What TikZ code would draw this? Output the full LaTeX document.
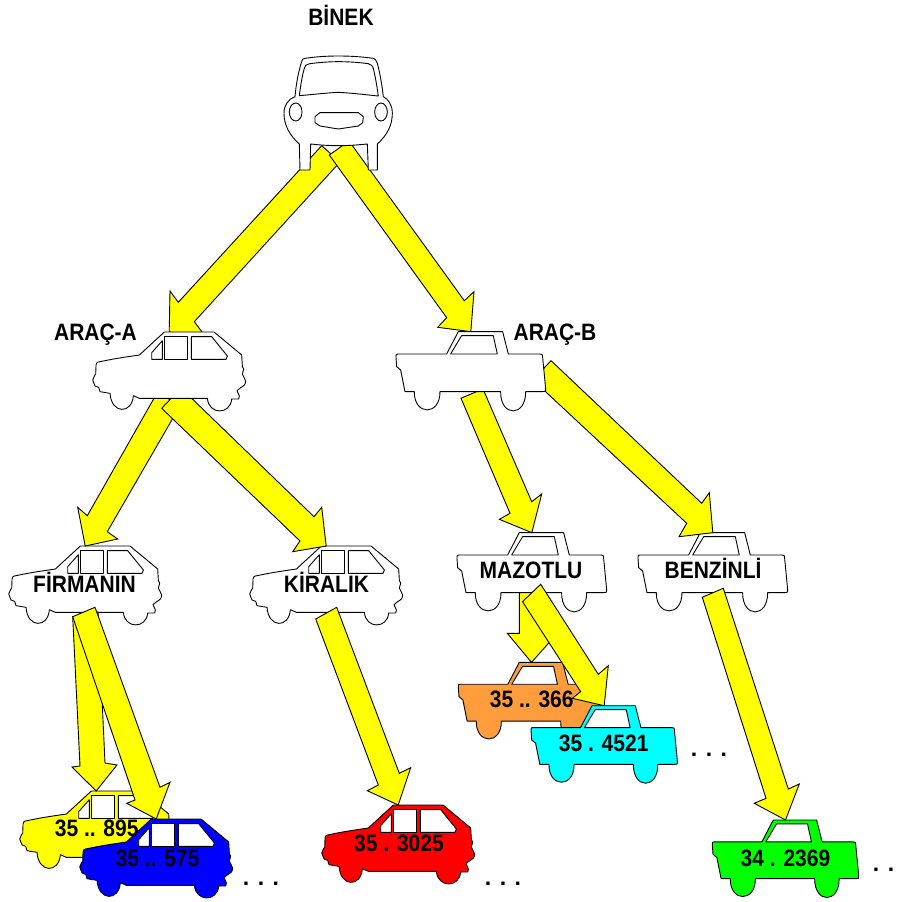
\documentclass[tikz,border=0pt]{standalone}
\usepackage{graphicx}
\usepackage{fontspec}
\setmainfont{Liberation Sans}
\usetikzlibrary{calc}
\definecolor{carorange}{RGB}{255,156,60}
\definecolor{pureyellow}{RGB}{255,255,0}
\definecolor{purecyan}{RGB}{0,255,255}
\definecolor{pureblue}{RGB}{0,0,255}
\definecolor{purered}{RGB}{255,0,0}
\definecolor{puregreen}{RGB}{0,255,0}
\tikzset{
  carline/.style={draw=black,line width=0.9pt,line join=round},
  anchorbox/.style={inner sep=0pt,outer sep=0pt,rectangle,minimum width=#1},
  blockar/.style={draw=black,fill=pureyellow,line width=0.9pt,line join=miter},
  labeltext/.style={anchor=base,inner sep=0pt,font=\fontsize{21}{21}\selectfont\bfseries,text=black},
  dotstext/.style={anchor=base,inner sep=0pt,font=\fontsize{23}{23}\selectfont\bfseries,text=black}
}
% hatchback side view, drawn around its named anchor node
\newcommand{\hatchcar}[2]{%
\begin{scope}[shift={(#1.center)},x=0.33333pt,y=-0.33333pt,shift={(-357.5,-214.5)}]
\draw[carline,fill=#2] (268,165) -- (343,96) -- (492,96) -- (575,165) -- (577,200) -- (581,207) -- (577,222)
 .. controls (582,230) .. (587,243) .. controls (585,255) .. (572,263) -- (561,272) -- (568,288) -- (566,297) -- (545,297)
 .. controls (541,345) and (476,345) .. (472,295) -- (268,295) -- (250,287)
 .. controls (246,343) and (184,343) .. (180,280) -- (150,275) -- (146,262) -- (135,258) -- (128,240) -- (133,228) -- (137,222) -- (138,195)
 .. controls (140,187) .. (150,185) .. controls (200,175) .. cycle;
\draw[carline,fill=white] (305,178) -- (305,158) -- (337,122) -- (337,178) -- cycle;
\draw[carline,fill=white] (343,110) -- (412,110) -- (412,178) -- (343,178) -- cycle;
\draw[carline,fill=white] (424,110) -- (485,110) -- (532,168) -- (528,178) -- (424,178) -- cycle;
\end{scope}}
% pickup-like sedan side view
\newcommand{\sedancar}[3]{%
\begin{scope}[shift={(#1.center)},x={#3*0.33333pt},y={-#3*0.33333pt},shift={(-272.5,-184)}]
\draw[carline,fill=#2] (200,132) -- (235,65) -- (368,65) -- (385,132) -- (478,132)
 .. controls (487,132) .. (488,142) -- (497,235) .. controls (497,245) .. (488,245) -- (437,245)
 .. controls (438,322) and (361,322) .. (362,245) -- (180,245)
 .. controls (181,318) and (102,318) .. (103,245) -- (75,245) -- (62,180) -- (50,170) -- (48,140)
 .. controls (48,132) .. (55,132) -- cycle;
\draw[carline,fill=white] (212,132) -- (245,77) -- (340,77) -- (352,132) -- cycle;
\end{scope}}
% block arrow: source, two tail corners (offsets from source's south), notch, barb, target, barb, notch
\newcommand{\blockarrow}[8]{%
\draw[blockar] ($(#1.south)+(#2)$) -- (#4) -- (#5) -- (#6.north) -- (#7) -- (#8) -- ($(#1.south)+(#3)$) -- cycle;}
\begin{document}
\begin{tikzpicture}[x=1pt,y=-1pt]
\useasboundingbox (0,0) rectangle (898,902);
\fill[white] (0,0) rectangle (898,902);
% anchor nodes of all cars
\node[anchorbox=108.3pt,minimum height=114pt] (bin) at (338.2,113) {};
\node[anchorbox=153pt,minimum height=79pt] (caa) at (169.2,371.5) {};
\node[anchorbox=153pt,minimum height=79pt] (fir) at (85.2,585.5) {};
\node[anchorbox=153pt,minimum height=79pt] (kir) at (326.2,585.5) {};
\node[anchorbox=153pt,minimum height=79pt] (yel) at (96.2,830.5) {};
\node[anchorbox=153pt,minimum height=79pt] (blu) at (156.2,858.5) {};
\node[anchorbox=153pt,minimum height=79pt] (red) at (398.2,844.5) {};
\node[anchorbox=149.7pt,minimum height=79.3pt] (cab) at (470.8,371.3) {};
\node[anchorbox=149.7pt,minimum height=79.3pt] (maz) at (531.8,572.3) {};
\node[anchorbox=149.7pt,minimum height=79.3pt] (ben) at (712.8,572.3) {};
\node[anchorbox=146.4pt,minimum height=77.6pt] (ora) at (531.5,701.2) {};
\node[anchorbox=146.4pt,minimum height=77.6pt] (cya) at (604.2,744.5) {};
\node[anchorbox=146.4pt,minimum height=77.6pt] (gre) at (785.5,858.8) {};
% lower cars, under the arrows
\hatchcar{fir}{white}
\hatchcar{kir}{white}
\sedancar{maz}{white}{1}
\sedancar{ben}{white}{1}
\hatchcar{yel}{pureyellow}
\hatchcar{red}{purered}
\sedancar{ora}{carorange}{0.978}
\sedancar{gre}{puregreen}{0.978}
% upper arrows
\blockarrow{bin}{-16.5,-24.3}{1.8,-8}{178.3,302.3}{170,291}{caa}{205,336}{194.3,321.7}
\blockarrow{bin}{-8.9,-15}{10.8,-29}{446.7,317.7}{437.7,327.3}{cab}{474,291.7}{464.3,300.7}
\blockarrow{caa}{-12.2,-18}{11.3,-6}{87.3,515.7}{77.7,507.3}{fir}{117.7,539}{107.3,531.7}
\blockarrow{caa}{-7.5,-2.7}{11.8,-23}{300,541}{292.7,551.7}{kir}{321.7,507.3}{314,516.7}
\blockarrow{cab}{-9.8,-12.7}{12.2,-22}{510,513.3}{499.3,519.3}{maz}{541.7,494}{531.7,501.7}
\blockarrow{cab}{62.2,-31}{80.2,-50.3}{686.7,523.3}{679,536.7}{ben}{709.3,492.7}{701.7,503.3}
% upper cars, over the arrow tails
\hatchcar{caa}{white}
\sedancar{cab}{white}{1}
% front view car
\begin{scope}[shift={(bin.center)},x=0.33333pt,y=-0.33333pt,shift={(-204.6,-339)}]
\draw[carline,fill=white] (90,510) -- (88,432) .. controls (58,405) and (42,375) .. (42,340)
 .. controls (42,315) and (55,297) .. (75,290) .. controls (78,255) and (85,215) .. (95,185)
 .. controls (97,177) .. (105,175) .. controls (140,170) and (170,168) .. (205,168)
 .. controls (240,168) and (275,170) .. (310,175) .. controls (316,177) .. (322,190)
 .. controls (330,220) and (336,255) .. (340,290) .. controls (355,297) and (367,315) .. (367,340)
 .. controls (367,375) and (352,405) .. (322,432) -- (322,510) -- (295,510) -- (292,432)
 .. controls (260,435) and (235,437) .. (205,437) .. controls (175,437) and (150,435) .. (122,432)
 -- (120,510) -- cycle;
\draw[carline] (88,287) .. controls (92,255) and (97,225) .. (103,205) .. controls (106,195) .. (120,191)
 .. controls (150,187) and (180,185) .. (205,185) .. controls (235,185) and (265,187) .. (295,191)
 .. controls (305,195) .. (310,205) .. controls (316,230) and (321,260) .. (325,288)
 .. controls (285,284) and (245,279) .. (205,277) .. controls (165,279) and (125,284) .. cycle;
\draw[carline] (77,336) ellipse [x radius=19,y radius=27];
\draw[carline] (333,336) ellipse [x radius=19,y radius=27];
\draw[carline] (135,350) -- (150,338) -- (265,338) -- (280,350) -- (278,368) -- (265,378) -- (205,387) -- (150,378) -- (135,368) -- cycle;
\end{scope}
% lower arrows
\blockarrow{fir}{-12.5,-8.3}{12.8,-13}{80,766}{72,767}{yel}{117,765}{105,763}
\blockarrow{fir}{-12.5,-8.3}{9.8,-17.7}{135,800}{126.7,803.3}{blu}{170,782.3}{160,787.3}
\blockarrow{kir}{-10.5,-6}{10.5,-17.7}{378.3,785}{367.3,790.7}{red}{410.7,767.7}{399.3,773.3}
\blockarrow{ben}{-10.5,-14.7}{10.5,-23.7}{766,798.3}{754.3,803.3}{gre}{799.3,784}{788.3,789}
\blockarrow{maz}{-12.5,-19.3}{13.2,-19.3}{519.3,633.3}{507.3,633.3}{ora}{556.7,634}{545,635}
\blockarrow{maz}{-9.3,-10.3}{8.9,-27.7}{580.7,691.7}{572.3,698.3}{cya}{608.3,665.7}{598.3,674.3}
\hatchcar{blu}{pureblue}
\sedancar{cya}{purecyan}{0.978}
% labels
\newcommand{\lab}[3]{\node[labeltext] (#1) at (#2) {\scalebox{1}[1.13]{#3}};}
\lab{tbin}{341,25}{BİNEK}
\lab{tcaa}{95.5,340.7}{ARAÇ-A}
\lab{tcab}{555,340.7}{ARAÇ-B}
\lab{tfir}{84.5,592.7}{FİRMANIN}
\lab{tkir}{326.5,592.3}{KİRALIK}
\lab{tmaz}{531,578.3}{MAZOTLU}
\lab{tben}{713,578.3}{BENZİNLİ}
\lab{tora}{531.7,707.3}{35 .. 366}
\lab{tcya}{603.7,751}{35 . 4521}
\lab{tyel}{96.7,836.7}{35 .. 895}
\lab{tblu}{157.5,866.7}{35 .. 575}
\lab{tred}{399,851}{35 . 3025}
\lab{tgre}{785.5,866}{34 . 2369}
\node[dotstext] (d1) at (261,885) {. . .};
\node[dotstext] (d2) at (503,885.5) {. . .};
\node[dotstext] (d3) at (709,756) {. . .};
\node[dotstext] (d4) at (883.6,871) {. .};
\end{tikzpicture}
\end{document}
